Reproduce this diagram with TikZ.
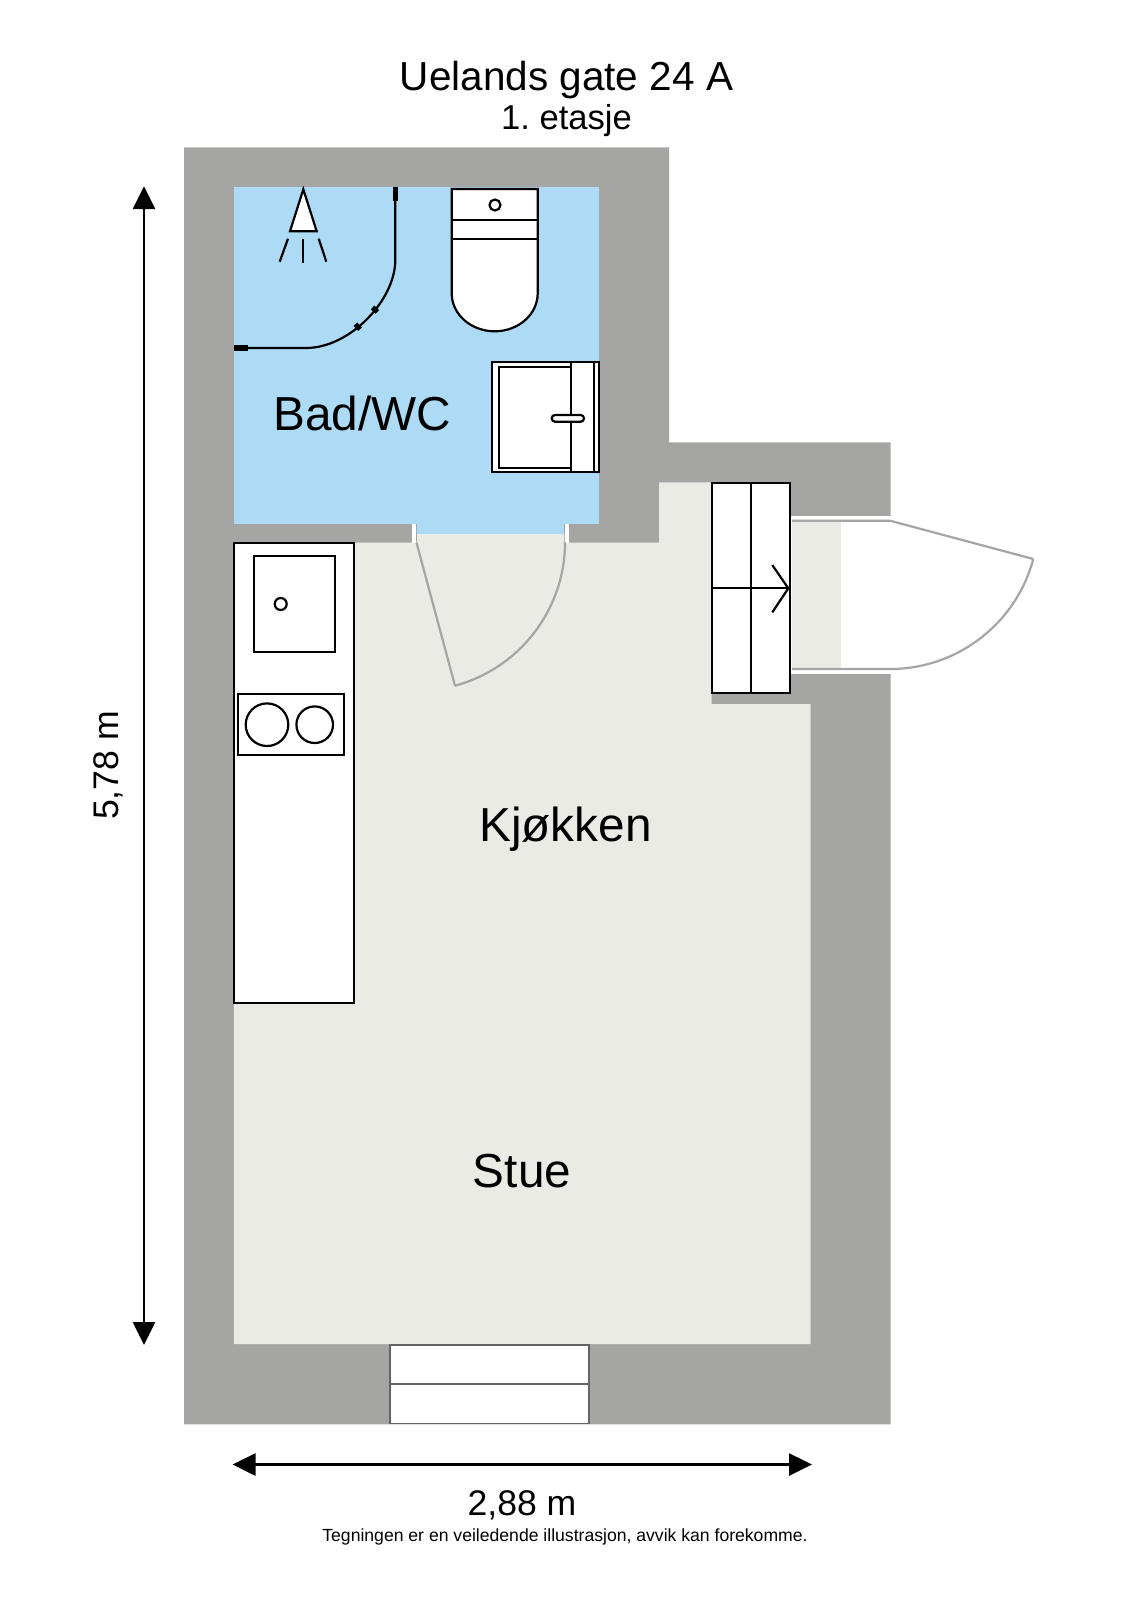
\documentclass[tikz,border=0pt]{standalone}
\usepackage{fontspec}
\setmainfont{Liberation Sans}
\usetikzlibrary{arrows.meta,calc}
\definecolor{wallgray}{HTML}{A5A5A4}
\definecolor{bathblue}{HTML}{ADDAF4}
\definecolor{floorbeige}{HTML}{EAEBE4}
\frenchspacing
\tikzset{
  fixture/.style={draw=black,line width=2.2pt,fill=white},
  fixline/.style={draw=black,line width=2.2pt},
  doorline/.style={draw=wallgray,line width=2.2pt},
  jamb/.style={fill=white,draw=none},
  dimline/.style={draw=black,line width=2.6pt,{Triangle[length=23pt,width=22pt]}-{Triangle[length=23pt,width=22pt]}},
  roomlabel/.style={anchor=base,font=\fontsize{47.7}{48}\selectfont,text=black},
  dimlabel/.style={anchor=base,font=\fontsize{35.6}{36}\selectfont,text=black}
}
\begin{document}
\begin{tikzpicture}[x=1pt,y=-1pt]
    \useasboundingbox (0,0) rectangle (1131,1600);
    \fill[white] (0,0) rectangle (1131,1600);

    % Outer walls
    \fill[wallgray] (184,147.3) -- (669,147.3) -- (669,442.3) -- (890.7,442.3) -- (890.7,1424.3) -- (184,1424.3) -- cycle;

    % Floors
    \fill[bathblue] (234,187.3) rectangle (599,523.7);
    \fill[bathblue] (417,523) rectangle (564.3,534);
    \fill[floorbeige] (417,534) -- (564.3,534) -- (564.3,542.7) -- (659,542.7) -- (659,482.3) -- (711.7,482.3) -- (711.7,704) -- (810.7,704) -- (810.7,1344) -- (234,1344) -- (234,542.7) -- (417,542.7) -- cycle;

    % Bathroom door
    \fill[jamb] (411.7,524.3) rectangle (415.7,542.7);
    \fill[jamb] (565,524.3) rectangle (569,542.7);
    \draw[doorline] (455,685.7) -- (416.5,542.7);
    \draw[doorline] (455,685.7) arc[start angle=74.9,end angle=0,radius=148.8];

    % Entrance door
    \fill[jamb] (790,515.7) rectangle (890.7,674.3);
    \fill[floorbeige] (792,520.7) rectangle (841,669);
    \draw[doorline] (792,520.7) -- (890,520.7) -- (1033.3,559);
    \draw[doorline] (792,669) -- (890,669) arc[start angle=90,end angle=15,radius=148.3];

    % Stairs with arrow
    \draw[fixture] (711.7,483.3) rectangle (790.3,693.3);
    \draw[fixline] (751,483.3) -- (751,693.3);
    \draw[fixline] (711.7,588.3) -- (788.3,588.3);
    \draw[fixline] (772.3,565) -- (788.3,588.3) -- (772.3,612.3);

    % Shower
    \draw[fixture] (303.3,189.3) -- (316.7,231.3) -- (290,231.3) -- cycle;
    \draw[fixline] (288,238.7) -- (279.7,261.7);
    \draw[fixline] (303.3,239.3) -- (303.3,263.3);
    \draw[fixline] (318.7,238.7) -- (326.3,261.7);
    \draw[fixline] (395.3,200) -- (395.3,260) .. controls (395.3,300) and (350,348) .. (306,348) -- (248,348);
    \fill[black] (392.7,187.3) rectangle (398,200.7);
    \fill[black] (234.3,345.3) rectangle (248,351.3);
    \draw[black,line width=5pt] (372.6,307.4) -- (377.4,312);
    \draw[black,line width=5pt] (355.4,324.2) -- (360,329.2);

    % Toilet
    \draw[fixture] (451.7,189) -- (537.7,189) -- (537.7,293.3) arc[start angle=0,end angle=180,x radius=43,y radius=38] -- cycle;
    \draw[fixline] (451.7,220) -- (537.7,220);
    \draw[fixline] (451.7,239.3) -- (537.7,239.3);
    \draw[fixture] (495,205) circle[radius=5.5];

    % Bathroom sink
    \draw[fixture] (491.7,361.7) rectangle (599,472.3);
    \draw[fixline] (499,366.7) rectangle (571,467.7);
    \draw[fixline] (571,361.7) -- (571,472.3);
    \draw[fixline] (594.3,361.7) -- (594.3,472.3);
    \draw[fixture,rounded corners=3.3pt] (551.7,415) rectangle (584,421.7);

    % Kitchen counter
    \draw[fixture] (234,543.3) rectangle (354.3,1003.3);
    \draw[fixline] (254.3,555.7) rectangle (335.3,652.3);
    \draw[fixline] (280.7,604) circle[radius=6];
    \draw[fixline] (238,694.3) rectangle (344.3,755);
    \draw[fixline] (267,724.7) circle[radius=21.3];
    \draw[fixline] (314.7,724.7) circle[radius=18.3];

    % Window in bottom wall
    \draw[draw=wallgray!60!black,line width=1.4pt,fill=white] (390,1345) rectangle (589,1423.3);
    \draw[draw=wallgray!60!black,line width=1.4pt] (390,1384) -- (589,1384);

    % Room labels
    \node[roomlabel] (bad) at (362,430) {Bad/WC};
    \node[roomlabel] (kjokken) at (565.5,841) {Kjøkken};
    \node[roomlabel] (stue) at (522,1187.5) {Stue};

    % Title
    \node[anchor=base,font=\fontsize{40.5}{41}\selectfont] (title) at (566.5,91) {Uelands gate 24 A};
    \node[anchor=base,font=\fontsize{34.6}{35}\selectfont] (floor) at (566.5,129.6) {1. etasje};

    % Dimensions
    \coordinate (heightTop) at (144,186.2);
    \coordinate (heightBot) at (144,1345);
    \coordinate (widthLeft) at (232.5,1464.5);
    \coordinate (widthRight) at (812,1464.5);
    \draw[dimline] (heightTop) -- (heightBot);
    \draw[dimline] (widthLeft) -- (widthRight);
    \node[dimlabel,rotate=90] (heightText) at (118,765.5) {5,78 m};
    \node[dimlabel] (widthText) at (522,1515.7) {2,88 m};

    % Disclaimer
    \node[anchor=base,font=\fontsize{17.6}{18}\selectfont] (note) at (565,1541.7) {Tegningen er en veiledende illustrasjon, avvik kan forekomme.};
\end{tikzpicture}
\end{document}
